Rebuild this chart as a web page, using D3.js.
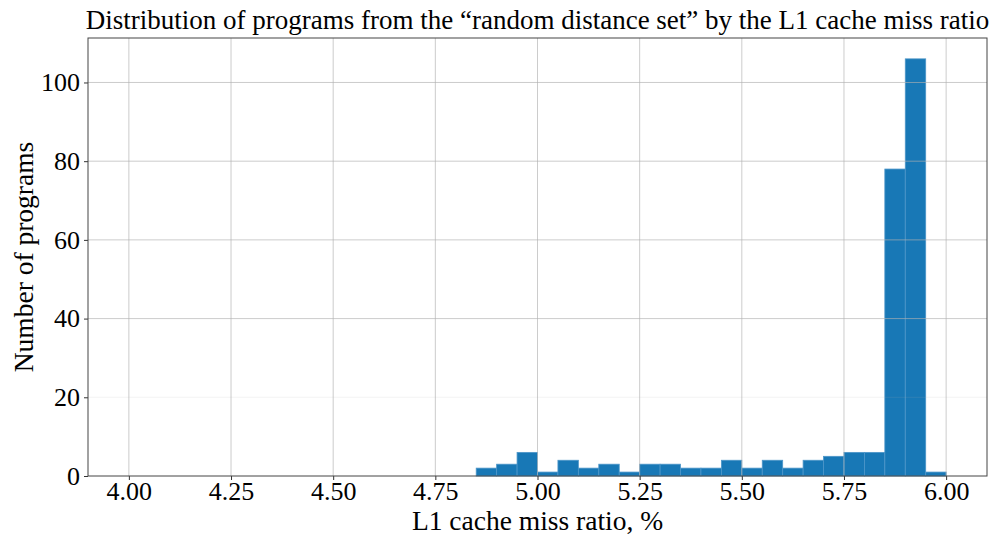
<!DOCTYPE html>
<html>
<head>
<meta charset="utf-8">
<script src="https://cdn.jsdelivr.net/npm/d3@7"></script>
<style>
  body { margin: 0; background: #fff; }
  svg text { font-family: "Liberation Serif", "DejaVu Serif", serif; fill: #000; }
</style>
</head>
<body>
<div id="chart"></div>
<script>
// histogram bins (left edges, width 0.05) and counts
const binStarts = [4.85, 4.90, 4.95, 5.00, 5.05, 5.10, 5.15, 5.20, 5.25, 5.30, 5.35, 5.40,
  5.45, 5.50, 5.55, 5.60, 5.65, 5.70, 5.75, 5.80, 5.85, 5.90, 5.95];
const counts = [2, 3, 6, 1, 4, 2, 3, 1, 3, 3, 2, 2, 4, 2, 4, 2, 4, 5, 6, 6, 78, 106, 1];
const binWidth = 0.05;
const xTicks = [4.00, 4.25, 4.50, 4.75, 5.00, 5.25, 5.50, 5.75, 6.00];
const yTicks = [0, 20, 40, 60, 80, 100];

const W = 994, H = 536;
const margin = { left: 88, right: 7, top: 38, bottom: 60 };
const serif = "'Liberation Serif', 'DejaVu Serif', serif";

const svg = d3.select("#chart").append("svg")
  .attr("width", W)
  .attr("height", H);

// scales (matplotlib style 5% margins)
const x = d3.scaleLinear().domain([3.9, 6.1]).range([margin.left, W - margin.right]);
const y = d3.scaleLinear().domain([0, 106 * 1.05]).range([H - margin.bottom, margin.top]);

const data = binStarts.map((b, i) => ({ x0: b, x1: b + binWidth, n: counts[i] }));

// bars
svg.append("g").selectAll("rect")
  .data(data)
  .join("rect")
  .attr("x", d => x(d.x0))
  .attr("y", d => y(d.n))
  .attr("width", d => x(d.x1) - x(d.x0))
  .attr("height", d => y(0) - y(d.n))
  .attr("fill", "#1878b6")
  .attr("stroke", "#4d96c9")
  .attr("stroke-width", 0.8);

// grid on top of bars
const grid = svg.append("g").attr("stroke", "#b0b0b0").attr("stroke-opacity", 0.65).attr("stroke-width", 1);
grid.selectAll("line.vx")
  .data(xTicks)
  .join("line")
  .attr("x1", d => x(d)).attr("x2", d => x(d))
  .attr("y1", y.range()[0]).attr("y2", y.range()[1]);
grid.selectAll("line.hy")
  .data(yTicks.slice(1))
  .join("line")
  .attr("x1", x.range()[0]).attr("x2", x.range()[1])
  .attr("y1", d => y(d)).attr("y2", d => y(d))
  .attr("stroke-opacity", d => d === 20 ? 0.15 : 0.65);

// axes
const xAxis = svg.append("g")
  .attr("transform", `translate(0,${H - margin.bottom})`)
  .call(d3.axisBottom(x).tickValues(xTicks).tickFormat(d3.format(".2f")).tickSizeOuter(0).tickSize(4).tickPadding(2));
const yAxis = svg.append("g")
  .attr("transform", `translate(${margin.left},0)`)
  .call(d3.axisLeft(y).tickValues(yTicks).tickSizeOuter(0).tickSize(4).tickPadding(4));

[xAxis, yAxis].forEach(g => {
  g.attr("font-family", serif).attr("font-size", 26);
  g.select(".domain").remove();
  g.selectAll(".tick line").attr("stroke", "#333");
  g.selectAll(".tick text")
    .style("font-family", serif)
    .style("font-size", "26px")
    .attr("fill", "#000");
});

// frame
svg.append("rect")
  .attr("x", margin.left).attr("y", margin.top)
  .attr("width", W - margin.left - margin.right)
  .attr("height", H - margin.top - margin.bottom)
  .attr("fill", "none")
  .attr("stroke", "#444")
  .attr("stroke-width", 1);

// title and labels
svg.append("text")
  .attr("x", (margin.left + W - margin.right) / 2)
  .attr("y", 29)
  .attr("text-anchor", "middle")
  .style("font-size", "27px")
  .text("Distribution of programs from the \u201crandom distance set\u201d by the L1 cache miss ratio");

svg.append("text")
  .attr("x", (margin.left + W - margin.right) / 2)
  .attr("y", 530)
  .attr("text-anchor", "middle")
  .style("font-size", "27.5px")
  .text("L1 cache miss ratio, %");

svg.append("text")
  .attr("transform", `translate(33,${(margin.top + H - margin.bottom) / 2}) rotate(-90)`)
  .attr("text-anchor", "middle")
  .style("font-size", "27.5px")
  .text("Number of programs");
</script>
</body>
</html>
